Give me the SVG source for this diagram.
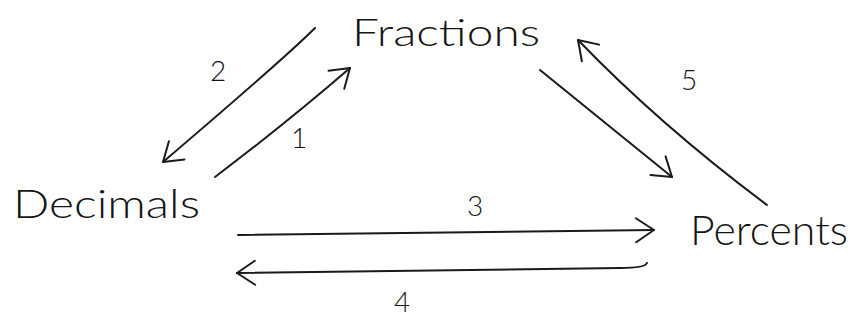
<svg xmlns="http://www.w3.org/2000/svg" width="851" height="321" viewBox="0 0 851 321">
  <style>
    .node { font-family: "Lato", "Liberation Sans", "DejaVu Sans", sans-serif; font-weight: 300; fill: #151515; }
    .lbl { font-family: "Lato", "Liberation Sans", "DejaVu Sans", sans-serif; font-weight: 300; fill: #151515; font-size: 28px; text-anchor: middle; }
    .conn { fill: none; stroke: #1a1a1a; stroke-width: 2; stroke-linecap: round; stroke-linejoin: round; marker-end: url(#head); }
  </style>
  <defs>
    <marker id="head" markerUnits="userSpaceOnUse" markerWidth="40" markerHeight="40" refX="20" refY="20" orient="auto" overflow="visible">
      <path d="M2,8 L20,20 L2,32" fill="none" stroke="#1a1a1a" stroke-width="2" stroke-linecap="round" stroke-linejoin="round"/>
    </marker>
  </defs>
  <rect width="851" height="321" fill="#ffffff"/>

  <g id="fractions">
    <text class="node" x="352" y="46" font-size="38" textLength="188" lengthAdjust="spacingAndGlyphs">Fractions</text>
  </g>
  <g id="decimals">
    <text class="node" x="13" y="218" font-size="40" textLength="187" lengthAdjust="spacingAndGlyphs">Decimals</text>
  </g>
  <g id="percents">
    <text class="node" x="690" y="245" font-size="42" textLength="158" lengthAdjust="spacingAndGlyphs">Percents</text>
  </g>

  <g id="connectors">
    <path class="conn" d="M315,28 Q285,58 163,162"/>
    <path class="conn" d="M215,177 Q290,120 350,68"/>
    <path class="conn" d="M540,70 L672,177"/>
    <path class="conn" d="M767,205 Q660,125 578,40"/>
    <path class="conn" d="M238,235 L654,230"/>
    <path class="conn" d="M647,263 Q645,268 620,268 L237,273"/>
  </g>

  <g id="labels">
    <text class="lbl" x="218" y="81">2</text>
    <text class="lbl" x="299" y="148">1</text>
    <text class="lbl" x="475" y="216">3</text>
    <text class="lbl" x="402" y="312" font-size="32">4</text>
    <text class="lbl" x="689" y="90">5</text>
  </g>
</svg>
